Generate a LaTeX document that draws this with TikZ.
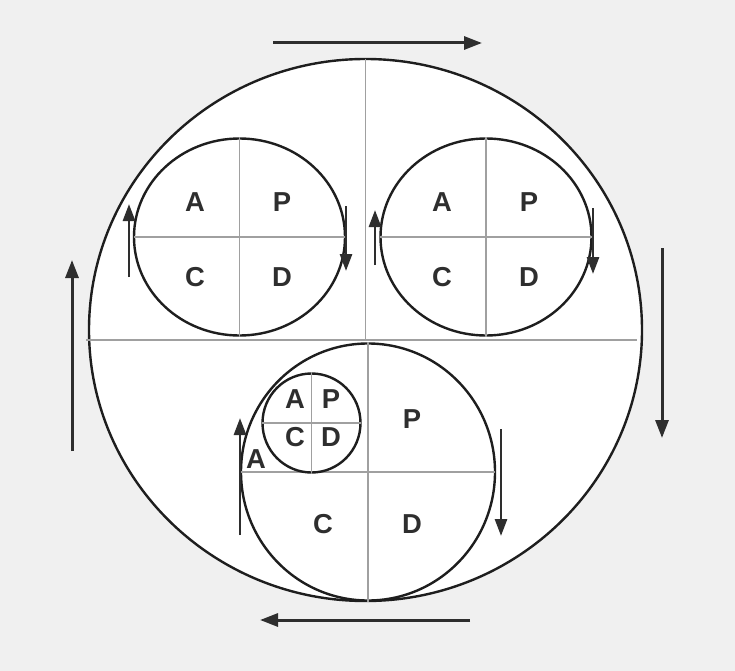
\documentclass[tikz,border=0pt]{standalone}
\usepackage{fontspec}
\setmainfont{Liberation Sans}
\usetikzlibrary{shapes.geometric,arrows.meta}
\definecolor{paper}{HTML}{F0F0F0}
\definecolor{ink}{HTML}{1E1E1E}
\definecolor{arrink}{HTML}{2E2E2E}
\definecolor{divgray}{HTML}{A0A0A0}

\begin{document}
\begin{tikzpicture}[x = 1bp, y = -1bp,
  ring/.style = {ellipse, draw = ink, line width = 2.4bp, fill = white, inner sep = 0pt},
  divline/.style = {draw = divgray, line width = 1.1bp, shorten > = 1bp, shorten < = 1bp},
  flow/.style = {draw = arrink, line width = 3bp, -{Triangle[length = 18bp, width = 13bp]}},
  turn/.style = {draw = arrink, line width = 2.8bp, -{Triangle[length = 17bp, width = 12bp]}},
  lbl/.style = {font = \fontsize{27.5}{32}\selectfont\bfseries, text = arrink, inner sep = 0pt}]
\fill[paper] (0,0) rectangle (735,671);
\useasboundingbox (0,0) rectangle (735,671);
\node[ring, minimum width = 553bp, minimum height = 542bp] (big) at (365.5,330) {};
\coordinate (hl) at (85,340);
\coordinate (hr) at (638,340);
\draw[divline] (hl) -- (hr);
\draw[divline] (big.north) -- (big.north |- hl);
\node[ring, minimum width = 211bp, minimum height = 197bp] (tl) at (239.5,237) {};
\node[ring, minimum width = 211bp, minimum height = 197bp] (tr) at (486,237) {};
\node[ring, minimum width = 254bp, minimum height = 257bp] (bot) at (368,472) {};
\draw[divline] (tl.north) -- (tl.south) (tl.west) -- (tl.east);
\draw[divline] (tr.north) -- (tr.south) (tr.west) -- (tr.east);
\draw[divline] (bot.north) -- (bot.south) (bot.west) -- (bot.east);
\node[ring, minimum width = 98bp, minimum height = 99bp] (sm) at (311.5,423) {};
\draw[divline] (sm.north) -- (sm.south) (sm.west) -- (sm.east);
\node[lbl] (tlA) at (195,202) {A};
\node[lbl] (tlP) at (282,202) {P};
\node[lbl] (tlC) at (195,277) {C};
\node[lbl] (tlD) at (282,277) {D};
\node[lbl] (trA) at (442,202) {A};
\node[lbl] (trP) at (529,202) {P};
\node[lbl] (trC) at (442,277) {C};
\node[lbl] (trD) at (529,277) {D};
\node[lbl] (botP) at (412,419) {P};
\node[lbl] (botC) at (323,524) {C};
\node[lbl] (botD) at (412,524) {D};
\node[lbl] (botA) at (256,459) {A};
\node[lbl] (smA) at (295,399) {A};
\node[lbl] (smP) at (331,399) {P};
\node[lbl] (smC) at (295,437) {C};
\node[lbl] (smD) at (331,437) {D};
\coordinate (topS) at (273,43);
\coordinate (topE) at (482,43);
\coordinate (rightS) at (662,248);
\coordinate (rightE) at (662,438);
\coordinate (bottomS) at (470,620);
\coordinate (bottomE) at (260,620);
\coordinate (leftS) at (72,451);
\coordinate (leftE) at (72,260);
\draw[flow] (topS) -- (topE);
\draw[flow] (rightS) -- (rightE);
\draw[flow] (bottomS) -- (bottomE);
\draw[flow] (leftS) -- (leftE);
\coordinate (tlUpS) at (129,277);
\coordinate (tlUpE) at (129,204);
\coordinate (tlDnS) at (346,206);
\coordinate (tlDnE) at (346,271);
\coordinate (trUpS) at (375,265);
\coordinate (trUpE) at (375,210);
\coordinate (trDnS) at (593,208);
\coordinate (trDnE) at (593,274);
\coordinate (botUpS) at (240,535);
\coordinate (botUpE) at (240,418);
\coordinate (botDnS) at (501,429);
\coordinate (botDnE) at (501,536);
\draw[turn] (tlUpS) -- (tlUpE);
\draw[turn] (tlDnS) -- (tlDnE);
\draw[turn] (trUpS) -- (trUpE);
\draw[turn] (trDnS) -- (trDnE);
\draw[turn] (botUpS) -- (botUpE);
\draw[turn] (botDnS) -- (botDnE);
\end{tikzpicture}
\end{document}
